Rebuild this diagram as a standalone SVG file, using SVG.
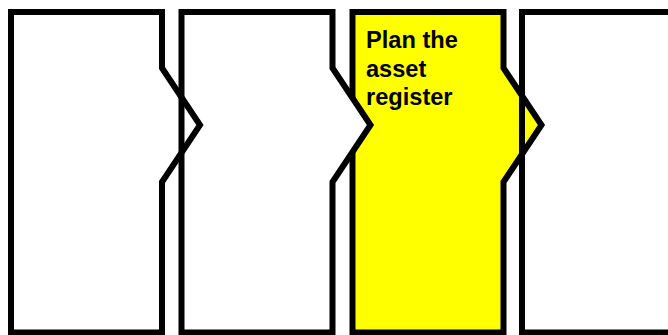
<svg xmlns="http://www.w3.org/2000/svg" width="668" height="335" viewBox="0 0 668 335">
<style>
.s{stroke:#000;stroke-width:6;stroke-linejoin:miter}
.lbl{font-family:"Liberation Sans",Arial,sans-serif;font-weight:bold;font-size:23.6px;fill:#000}
</style>
<rect width="668" height="335" fill="#fff"/>
<g id="step3">
<path class="s" fill="#ffff00" d="M352.5,12 H503.5 V68 L541.5,125 L503.5,182 V332.5 H352.5 Z"/>
<text class="lbl"><tspan x="366" y="48.3">Plan the</tspan><tspan x="366" y="76.6">asset</tspan><tspan x="366" y="104.5">register</tspan></text>
</g>
<g id="step2">
<path class="s" fill="#fff" d="M181.5,12 H332.5 V68 L370.5,125 L332.5,182 V332.5 H181.5 Z"/>
</g>
<g id="step1">
<path class="s" fill="none" d="M11,12 H162 V68 L200,125 L162,182 V332.5 H11 Z"/>
</g>
<g id="step4">
<path class="s" fill="none" d="M522,12 H673 V68 L711,125 L673,182 V332.5 H522 Z"/>
</g>
<g id="connectors"></g>
</svg>
